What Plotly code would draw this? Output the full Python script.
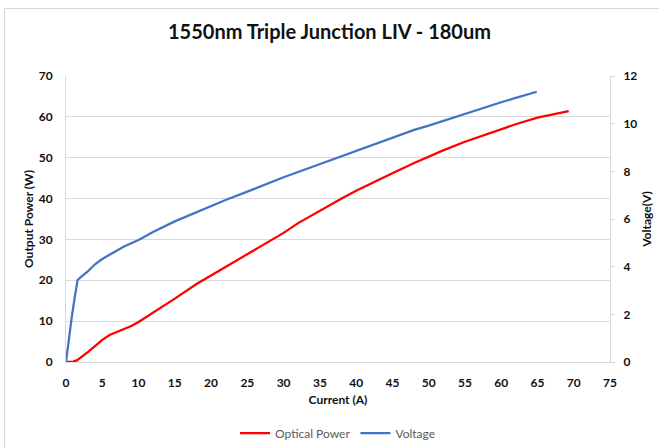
import plotly.graph_objects as go

# Optical power (W) vs current (A)
current_p = [0, 0.5, 1, 1.5, 2, 3, 4, 5, 6, 7, 8, 9, 10, 12, 14, 15, 18, 20, 22, 25, 27, 30,
             32, 35, 38, 40, 42, 45, 48, 50, 52, 55, 58, 60, 62, 65, 67, 69.3]
power = [0, 0, 0.1, 0.4, 1.0, 2.4, 3.9, 5.4, 6.6, 7.3, 8.0, 8.8, 9.8, 12.0, 14.3, 15.5, 19.1,
         21.2, 23.3, 26.4, 28.4, 31.6, 34.0, 37.1, 40.0, 41.9, 43.7, 46.2, 48.7, 50.3, 51.8,
         53.9, 55.8, 57.0, 58.2, 59.8, 60.6, 61.4]

# Voltage (V) vs current (A)
current_v = [0, 0.4, 0.8, 1.2, 1.6, 2, 3, 4, 5, 6, 7, 8, 10, 12, 15, 18, 20, 22, 25, 27, 30,
             32, 35, 38, 40, 42, 45, 48, 50, 52, 55, 58, 60, 62, 64.9]
voltage = [0, 1.0, 1.9, 2.7, 3.44, 3.55, 3.8, 4.1, 4.32, 4.5, 4.68, 4.85, 5.12, 5.45, 5.9,
           6.3, 6.55, 6.8, 7.15, 7.4, 7.75, 7.97, 8.3, 8.63, 8.88, 9.1, 9.43, 9.74, 9.92,
           10.12, 10.42, 10.7, 10.9, 11.08, 11.34]

x_ticks = list(range(0, 80, 5))
y_ticks = list(range(0, 80, 10))
y2_ticks = list(range(0, 14, 2))

FONT = "Lato"

fig = go.Figure()
fig.add_trace(go.Scatter(x=current_p, y=power, mode="lines", name="Optical Power",
                         line=dict(color="#FF0000", width=2.25)))
fig.add_trace(go.Scatter(x=current_v, y=voltage, mode="lines", name="Voltage", yaxis="y2",
                         line=dict(color="#4472C4", width=2.25)))

tickfont = dict(family=FONT, size=12, color="#111111", weight="bold")
titlefont = dict(family=FONT, size=12, color="#111111", weight="bold")

# chart-area border (top and left edges visible in the reference), in paper fractions
bx0 = (4.5 - 66) / 544
by1 = (362 - 8.5) / 286
border = [
    dict(type="line", xref="paper", yref="paper", x0=bx0, x1=1.1, y0=by1, y1=by1,
         line=dict(color="#D6D6D6", width=1), layer="above"),
    dict(type="line", xref="paper", yref="paper", x0=bx0, x1=bx0, y0=-0.4, y1=by1,
         line=dict(color="#D6D6D6", width=1), layer="above"),
]

fig.update_layout(
    width=659, height=448,
    margin=dict(l=66, r=49, t=76, b=86, autoexpand=False),
    paper_bgcolor="white", plot_bgcolor="white",
    title=dict(text="1550nm Triple Junction LIV - 180um", x=0.5, xanchor="center",
               y=1 - 32 / 448, yanchor="middle",
               font=dict(family=FONT, size=20, color="#111111", weight="bold")),
    xaxis=dict(range=[0, 75], tickvals=x_ticks, showgrid=False, zeroline=False,
               showline=True, linecolor="#D9D9D9", linewidth=1, ticks="",
               tickfont=tickfont, ticklabelstandoff=10, automargin=False,
               title=dict(text="Current (A)", font=titlefont, standoff=6)),
    yaxis=dict(range=[0, 70], tickvals=y_ticks, showgrid=True, gridcolor="#D9D9D9",
               gridwidth=1, zeroline=False, showline=True, linecolor="#D9D9D9",
               ticks="", tickfont=tickfont, ticklabelstandoff=10, automargin=False,
               title=dict(text="Output Power (W)", font=titlefont, standoff=2)),
    yaxis2=dict(range=[0, 12], tickvals=y2_ticks, overlaying="y", side="right",
                showgrid=False, zeroline=False, showline=True, linecolor="#D9D9D9",
                ticks="outside", ticklen=4, tickcolor="#D9D9D9", automargin=False,
                tickfont=tickfont, ticklabelstandoff=6,
                title=dict(text="Voltage(V)", font=titlefont, standoff=6)),
    legend=dict(orientation="h", x=0.5, xanchor="center", y=-(433 - 362) / 286, yanchor="middle",
                font=dict(family=FONT, size=12, color="#595959"), itemwidth=30),
    shapes=border,
)

fig.write_html("out.html", config={"displayModeBar": False},
               post_script="document.body.style.margin='0';document.body.style.overflow='hidden';")
